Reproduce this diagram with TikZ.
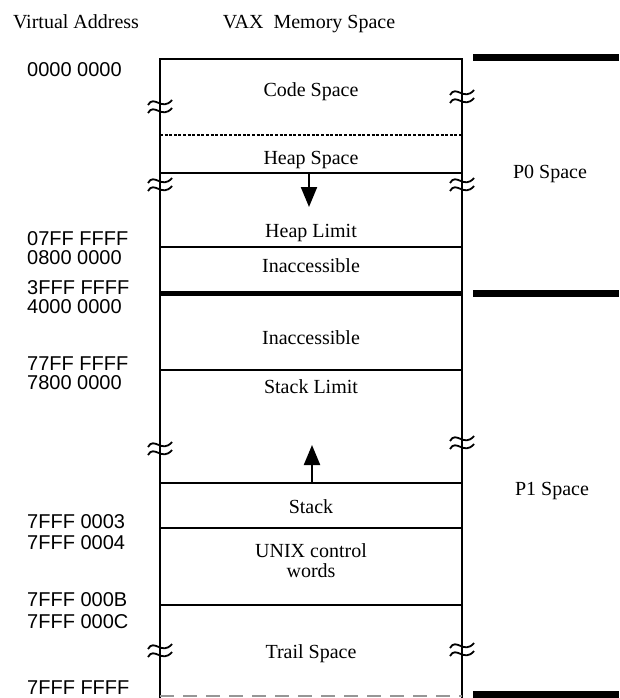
\documentclass[tikz,border=0pt]{standalone}
\usepackage{fontspec}
\setmainfont{Liberation Serif}
\newfontfamily\addrfont{Liberation Sans}
\usepackage{tikz}
\usetikzlibrary{arrows.meta}
\definecolor{scanline}{RGB}{150,150,150}

\tikzset{
  lbl/.style={font=\fontsize{20}{20}\selectfont,inner sep=0pt,anchor=base},
  addr/.style={font=\addrfont\fontsize{20}{20}\selectfont,inner sep=0pt,anchor=base west},
  sidewall/.style={line width=2.4pt},
  divider/.style={line width=1.8pt},
  pbar/.style={line width=7pt},
  growarrow/.style={line width=2.2pt,-{Triangle[length=20pt,width=16pt]}},
  brkmark/.pic={
    \draw[line width=1.8pt] (-12,-1) .. controls (-6,-12) and (2,6) .. (12,-6);
    \draw[line width=1.8pt] (-12,7) .. controls (-6,-4) and (2,14) .. (12,2);
  }
}

\begin{document}
\begin{tikzpicture}[x=1pt,y=-1pt]
\useasboundingbox (0,0) rectangle (619,698);
\node[lbl] (va) at (76,29) {Virtual Address};
\node[lbl] (vax) at (309,29) {VAX\ \ Memory Space};

\draw[sidewall] (160,698) -- (160,59) -- (462,59) -- (462,698);
\draw[divider,dash pattern=on 3pt off 1.6pt] (160,135) -- (462,135);
\foreach \y in {173,247,370,483,528,605}
  \draw[divider] (160,\y) -- (462,\y);
\draw[line width=5pt] (160,293) -- (462,293);
\draw[scanline,line width=1.5pt,dash pattern=on 14pt off 9pt] (160,696) -- (462,696);
\foreach \y in {58,293,694}
  \draw[pbar] (473,\y) -- (619,\y);

\foreach \x/\y [count=\i] in {160/106,462/96,160/184,462/184,160/448,462/442,160/650,462/649}
  \pic (brk\i) at (\x,\y) {brkmark};

\node[lbl] (code) at (311,97) {Code Space};
\node[lbl] (heap) at (311,164) {Heap Space};
\node[lbl] (heaplim) at (311,237) {Heap Limit};
\node[lbl] (inacc1) at (311,272) {Inaccessible};
\node[lbl] (inacc2) at (311,344) {Inaccessible};
\node[lbl] (stacklim) at (311,393) {Stack Limit};
\node[lbl] (stack) at (311,513) {Stack};
\node[lbl,anchor=center,align=center] (unix) at (311,561) {UNIX control\\words};
\node[lbl] (trail) at (311,658) {Trail Space};
\node[lbl] (p0) at (550,178) {P0 Space};
\node[lbl] (p1) at (552,495) {P1 Space};

\coordinate (heapend) at (309,173);
\coordinate (heaptip) at (309,207);
\coordinate (stackend) at (312,483);
\coordinate (stacktip) at (312,445);
\draw[growarrow] (heapend) -- (heaptip);
\draw[growarrow] (stackend) -- (stacktip);

\node[addr] (a0) at (27,77) {0000 0000};
\node[addr] (a1) at (27,245) {07FF FFFF};
\node[addr] (a2) at (27,264) {0800 0000};
\node[addr] (a3) at (27,294) {3FFF FFFF};
\node[addr] (a4) at (27,313) {4000 0000};
\node[addr] (a5) at (27,370) {77FF FFFF};
\node[addr] (a6) at (27,389) {7800 0000};
\node[addr] (a7) at (27,528) {7FFF 0003};
\node[addr] (a8) at (27,549) {7FFF 0004};
\node[addr] (a9) at (27,606) {7FFF 000B};
\node[addr] (a10) at (27,628) {7FFF 000C};
\node[addr] (a11) at (27,694) {7FFF FFFF};
\end{tikzpicture}
\end{document}
